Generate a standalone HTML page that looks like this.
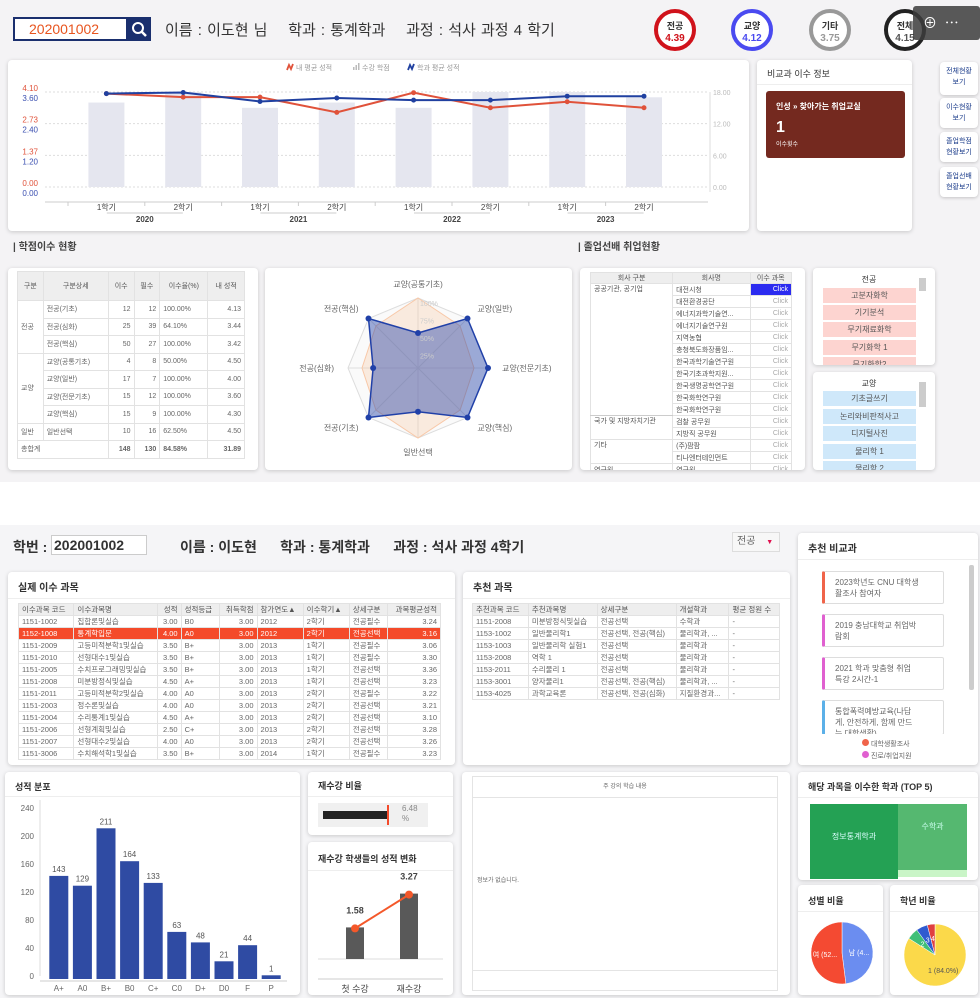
<!DOCTYPE html>
<html><head><meta charset="utf-8">
<style>
*{box-sizing:border-box;margin:0;padding:0}
body{width:980px;height:998px;position:relative;overflow:hidden;background:#fff;font-family:"Liberation Sans","Noto Sans CJK KR",sans-serif;color:#333}
.abs{position:absolute}
.panel{position:absolute;background:#fff;border-radius:4px;box-shadow:0 1px 4px rgba(0,0,0,.18)}
table{border-collapse:collapse;font-size:8px;color:#666}
td,th{border:1px solid #e2e2e2;padding:0 3px;white-space:nowrap;overflow:hidden;font-weight:normal}
th{background:#eee;color:#555}
.ptitle{position:absolute;left:10px;top:8px;font-size:10px;font-weight:bold;color:#333}
.hline{position:absolute;left:0;right:0;border-top:1px solid #eee}
.circ{position:absolute;width:42px;height:42px;border-radius:50%;background:#fff;text-align:center;font-size:10px;line-height:12px;padding-top:7px;font-weight:bold}
.sbtn{position:absolute;left:940px;width:38px;background:#fff;border-radius:4px;box-shadow:0 1px 3px rgba(0,0,0,.2);font-size:7px;color:#1a3b8a;text-align:center;line-height:11px;padding-top:4px}
.li{position:absolute;left:10px;width:93px;height:15px;font-size:8px;text-align:center;line-height:15px;color:#555}
</style></head><body>
<div class="abs" style="left:0;top:0;width:980px;height:482px;background:#f4f3f5"></div>
<div class="abs" style="left:0;top:525px;width:980px;height:473px;background:#f5f5f7"></div>

<div class="abs" style="left:13px;top:17px;width:115px;height:24px;border:2px solid #1a2f6e;background:#fff;color:#e8541e;font-size:14px;line-height:20px;padding-left:14px">202001002</div>
<div class="abs" style="left:127px;top:17px;width:24px;height:24px;background:#1a2f6e">
<svg width="24" height="24"><circle cx="11" cy="11" r="5" stroke="#fff" stroke-width="2" fill="none"/><line x1="14.5" y1="14.5" x2="19" y2="19" stroke="#fff" stroke-width="2.5"/></svg></div>
<div class="abs" style="left:165px;top:19px;font-size:15px;color:#333;white-space:nowrap;word-spacing:1px">이름 : 이도현 님 &nbsp;&nbsp; 학과 : 통계학과 &nbsp;&nbsp; 과정 : 석사 과정 4 학기</div>
<div class="circ" style="left:654px;top:9px;border:4px solid #d0121b;color:#d0121b"><span style="color:#333;font-size:9px">전공</span><br>4.39</div>
<div class="circ" style="left:731px;top:9px;border:4px solid #4a4af0;color:#4a4af0"><span style="color:#333;font-size:9px">교양</span><br>4.12</div>
<div class="circ" style="left:809px;top:9px;border:4px solid #999;color:#999"><span style="color:#333;font-size:9px">기타</span><br>3.75</div>
<div class="circ" style="left:884px;top:9px;border:4px solid #222;color:#555"><span style="color:#333;font-size:9px">전체</span><br>4.15</div>
<div class="abs" style="left:913px;top:6px;width:67px;height:34px;background:rgba(60,60,60,.85);border-radius:3px;color:#fff;font-size:14px;line-height:34px;padding-left:10px">⊕ &nbsp;⋯</div>

<div class="panel" style="left:8px;top:60px;width:741px;height:171px"></div>
<svg id="trend" class="abs" style="left:0;top:0" width="750" height="232"></svg>

<div class="panel" style="left:757px;top:60px;width:155px;height:171px">
<div class="ptitle" style="top:7px;font-weight:normal;font-size:9px">비교과 이수 정보</div>
<div class="hline" style="top:24px"></div>
<div class="abs" style="left:9px;top:31px;width:139px;height:67px;background:#74291f;border-radius:3px;color:#fff">
<div class="abs" style="left:10px;top:10px;font-size:8px;font-weight:bold">인성 » 찾아가는 취업교실</div>
<div class="abs" style="left:10px;top:28px;font-size:16px;font-weight:bold">1</div>
<div class="abs" style="left:10px;top:48px;font-size:6px">이수횟수</div></div>
</div>
<div class="sbtn" style="top:62px;height:33px">전체현황<br>보기</div>
<div class="sbtn" style="top:98px;height:30px">이수현황<br>보기</div>
<div class="sbtn" style="top:132px;height:30px">졸업학점<br>현황보기</div>
<div class="sbtn" style="top:167px;height:30px">졸업선배<br>현황보기</div>

<div class="abs" style="left:13px;top:238px;font-size:10px;font-weight:bold;color:#444">| 학점이수 현황</div>
<div class="abs" style="left:578px;top:238px;font-size:10px;font-weight:bold;color:#444">| 졸업선배 취업현황</div>

<div class="panel" style="left:8px;top:268px;width:250px;height:202px">
<table style="position:absolute;left:9px;top:3px;width:228px;font-size:7px">
<tr style="height:29px"><th>구분</th><th>구분상세</th><th>이수</th><th>필수</th><th>이수율(%)</th><th>내 성적</th></tr>
<tr style="height:17.5px"><td rowspan="3">전공</td><td>전공(기초)</td><td align="right">12</td><td align="right">12</td><td>100.00%</td><td align="right">4.13</td></tr>
<tr style="height:17.5px"><td>전공(심화)</td><td align="right">25</td><td align="right">39</td><td>64.10%</td><td align="right">3.44</td></tr>
<tr style="height:17.5px"><td>전공(핵심)</td><td align="right">50</td><td align="right">27</td><td>100.00%</td><td align="right">3.42</td></tr>
<tr style="height:17.5px"><td rowspan="4">교양</td><td>교양(공통기초)</td><td align="right">4</td><td align="right">8</td><td>50.00%</td><td align="right">4.50</td></tr>
<tr style="height:17.5px"><td>교양(일반)</td><td align="right">17</td><td align="right">7</td><td>100.00%</td><td align="right">4.00</td></tr>
<tr style="height:17.5px"><td>교양(전문기초)</td><td align="right">15</td><td align="right">12</td><td>100.00%</td><td align="right">3.60</td></tr>
<tr style="height:17.5px"><td>교양(핵심)</td><td align="right">15</td><td align="right">9</td><td>100.00%</td><td align="right">4.30</td></tr>
<tr style="height:17.5px"><td>일반</td><td>일반선택</td><td align="right">10</td><td align="right">16</td><td>62.50%</td><td align="right">4.50</td></tr>
<tr style="height:17.5px;font-weight:bold"><td colspan="2">총합계</td><td align="right"><b>148</b></td><td align="right"><b>130</b></td><td><b>84.58%</b></td><td align="right"><b>31.89</b></td></tr>
</table></div>

<div class="panel" style="left:265px;top:268px;width:307px;height:202px"></div>
<svg id="radar" class="abs" style="left:265px;top:268px" width="307" height="202"></svg>

<div class="panel" style="left:580px;top:268px;width:225px;height:202px;overflow:hidden">
<table style="position:absolute;left:10px;top:4px;width:202px;font-size:7px;color:#555">
<tr style="height:11px"><th>회사 구분</th><th>회사명</th><th>이수 과목</th></tr>
<tr style="height:12px"><td rowspan="11" valign="top" style="border-bottom:1px solid #ccc">공공기관, 공기업</td><td>대전시청</td><td align="right" style="background:#2b2bf0;color:#fff">Click</td></tr>
<tr style="height:12px"><td>대전환경공단</td><td align="right" style="color:#aaa">Click</td></tr>
<tr style="height:12px"><td>에너지과학기술연...</td><td align="right" style="color:#aaa">Click</td></tr>
<tr style="height:12px"><td>에너지기술연구원</td><td align="right" style="color:#aaa">Click</td></tr>
<tr style="height:12px"><td>지역농협</td><td align="right" style="color:#aaa">Click</td></tr>
<tr style="height:12px"><td>충청북도화장품임...</td><td align="right" style="color:#aaa">Click</td></tr>
<tr style="height:12px"><td>한국과학기술연구원</td><td align="right" style="color:#aaa">Click</td></tr>
<tr style="height:12px"><td>한국기초과학지원...</td><td align="right" style="color:#aaa">Click</td></tr>
<tr style="height:12px"><td>한국생명공학연구원</td><td align="right" style="color:#aaa">Click</td></tr>
<tr style="height:12px"><td>한국화학연구원</td><td align="right" style="color:#aaa">Click</td></tr>
<tr style="height:12px"><td>한국화학연구원</td><td align="right" style="color:#aaa">Click</td></tr>
<tr style="height:12px"><td rowspan="2" valign="top">국가 및 지방자치기관</td><td>검찰 공무원</td><td align="right" style="color:#aaa">Click</td></tr>
<tr style="height:12px"><td>지방직 공무원</td><td align="right" style="color:#aaa">Click</td></tr>
<tr style="height:12px"><td rowspan="2" valign="top">기타</td><td>(주)팜팜</td><td align="right" style="color:#aaa">Click</td></tr>
<tr style="height:12px"><td>티나엔터테인먼트</td><td align="right" style="color:#aaa">Click</td></tr>
<tr style="height:12px"><td>연구원</td><td>연구원</td><td align="right" style="color:#aaa">Click</td></tr>
</table></div>

<div class="panel" style="left:813px;top:268px;width:122px;height:97px;overflow:hidden">
<div class="abs" style="left:0;width:112px;top:6px;text-align:center;font-size:8px">전공</div>
<div class="li" style="top:20px;background:#fdd4d0">고분자화학</div>
<div class="li" style="top:37px;background:#fdd4d0">기기분석</div>
<div class="li" style="top:54px;background:#fdd4d0">무기재료화학</div>
<div class="li" style="top:72px;background:#fdd4d0">무기화학 1</div>
<div class="li" style="top:89px;background:#fdd4d0">무기화학2</div>
<div class="abs" style="left:106px;top:10px;width:7px;height:13px;background:#ccc"></div>
</div>
<div class="panel" style="left:813px;top:372px;width:122px;height:98px;overflow:hidden">
<div class="abs" style="left:0;width:112px;top:6px;text-align:center;font-size:8px">교양</div>
<div class="li" style="top:19px;background:#cfe8fa">기초글쓰기</div>
<div class="li" style="top:37px;background:#cfe8fa">논리와비판적사고</div>
<div class="li" style="top:54px;background:#cfe8fa">디지털사진</div>
<div class="li" style="top:72px;background:#cfe8fa">물리학 1</div>
<div class="li" style="top:89px;background:#cfe8fa">물리학 2</div>
<div class="abs" style="left:106px;top:10px;width:7px;height:25px;background:#ccc"></div>
</div>

<div class="abs" style="left:13px;top:537px;font-size:14px;font-weight:bold;color:#333">학번 :</div>
<div class="abs" style="left:51px;top:535px;width:96px;height:20px;border:1px solid #ccc;background:#fff;font-size:14px;font-weight:bold;line-height:18px;padding-left:2px">202001002</div>
<div class="abs" style="left:180px;top:537px;font-size:14px;font-weight:bold;color:#333;white-space:nowrap">이름 : 이도현 &nbsp;&nbsp;&nbsp;&nbsp; 학과 : 통계학과 &nbsp;&nbsp;&nbsp;&nbsp; 과정 : 석사 과정 4학기</div>
<div class="abs" style="left:732px;top:532px;width:48px;height:20px;border:1px solid #ddd;background:#f7f7f7;font-size:10px;color:#666;line-height:18px;padding-left:4px">전공 <span style="color:#e0114f;font-size:7px;margin-left:8px">▼</span></div>

<div class="panel" style="left:8px;top:572px;width:447px;height:193px">
<div class="ptitle" style="top:7px">실제 이수 과목</div><div class="hline" style="top:26px"></div>
<table style="position:absolute;left:10px;top:31px;width:423px;font-size:7.5px">
<tr style="height:12px"><th align="left">이수과목 코드</th><th align="left">이수과목명</th><th align="right">성적</th><th align="left">성적등급</th><th align="right">취득학점</th><th align="left">참가연도▲</th><th align="left">이수학기▲</th><th align="left">상세구분</th><th align="right">과목평균성적</th></tr>
<tr style="height:12px"><td>1151-1002</td><td>집합론및실습</td><td align="right">3.00</td><td>B0</td><td align="right">3.00</td><td>2012</td><td>2학기</td><td>전공필수</td><td align="right">3.24</td></tr>
<tr style="height:12px;background:#f44a2a;color:#fff"><td>1152-1008</td><td>통계학입문</td><td align="right">4.00</td><td>A0</td><td align="right">3.00</td><td>2012</td><td>2학기</td><td>전공선택</td><td align="right">3.16</td></tr>
<tr style="height:12px"><td>1151-2009</td><td>고등미적분학1및실습</td><td align="right">3.50</td><td>B+</td><td align="right">3.00</td><td>2013</td><td>1학기</td><td>전공필수</td><td align="right">3.06</td></tr>
<tr style="height:12px"><td>1151-2010</td><td>선형대수1및실습</td><td align="right">3.50</td><td>B+</td><td align="right">3.00</td><td>2013</td><td>1학기</td><td>전공필수</td><td align="right">3.30</td></tr>
<tr style="height:12px"><td>1151-2005</td><td>수치프로그래밍및실습</td><td align="right">3.50</td><td>B+</td><td align="right">3.00</td><td>2013</td><td>1학기</td><td>전공선택</td><td align="right">3.36</td></tr>
<tr style="height:12px"><td>1151-2008</td><td>미분방정식및실습</td><td align="right">4.50</td><td>A+</td><td align="right">3.00</td><td>2013</td><td>1학기</td><td>전공선택</td><td align="right">3.23</td></tr>
<tr style="height:12px"><td>1151-2011</td><td>고등미적분학2및실습</td><td align="right">4.00</td><td>A0</td><td align="right">3.00</td><td>2013</td><td>2학기</td><td>전공필수</td><td align="right">3.22</td></tr>
<tr style="height:12px"><td>1151-2003</td><td>정수론및실습</td><td align="right">4.00</td><td>A0</td><td align="right">3.00</td><td>2013</td><td>2학기</td><td>전공선택</td><td align="right">3.21</td></tr>
<tr style="height:12px"><td>1151-2004</td><td>수리통계1및실습</td><td align="right">4.50</td><td>A+</td><td align="right">3.00</td><td>2013</td><td>2학기</td><td>전공선택</td><td align="right">3.10</td></tr>
<tr style="height:12px"><td>1151-2006</td><td>선형계획및실습</td><td align="right">2.50</td><td>C+</td><td align="right">3.00</td><td>2013</td><td>2학기</td><td>전공선택</td><td align="right">3.28</td></tr>
<tr style="height:12px"><td>1151-2007</td><td>선형대수2및실습</td><td align="right">4.00</td><td>A0</td><td align="right">3.00</td><td>2013</td><td>2학기</td><td>전공선택</td><td align="right">3.26</td></tr>
<tr style="height:12px"><td>1151-3006</td><td>수치해석학1및실습</td><td align="right">3.50</td><td>B+</td><td align="right">3.00</td><td>2014</td><td>1학기</td><td>전공필수</td><td align="right">3.23</td></tr>
</table></div>

<div class="panel" style="left:463px;top:572px;width:327px;height:193px">
<div class="ptitle" style="top:7px">추천 과목</div><div class="hline" style="top:26px"></div>
<table style="position:absolute;left:9px;top:31px;width:308px;font-size:7.5px">
<tr style="height:12px"><th align="left">추천과목 코드</th><th align="left">추천과목명</th><th align="left">상세구분</th><th align="left">개설학과</th><th align="left">평균 정원 수</th></tr>
<tr style="height:12px"><td>1151-2008</td><td>미분방정식및실습</td><td>전공선택</td><td>수학과</td><td>-</td></tr>
<tr style="height:12px"><td>1153-1002</td><td>일반물리학1</td><td>전공선택, 전공(핵심)</td><td>물리학과, ...</td><td>-</td></tr>
<tr style="height:12px"><td>1153-1003</td><td>일반물리학 실험1</td><td>전공선택</td><td>물리학과</td><td>-</td></tr>
<tr style="height:12px"><td>1153-2008</td><td>역학 1</td><td>전공선택</td><td>물리학과</td><td>-</td></tr>
<tr style="height:12px"><td>1153-2011</td><td>수리물리 1</td><td>전공선택</td><td>물리학과</td><td>-</td></tr>
<tr style="height:12px"><td>1153-3001</td><td>양자물리1</td><td>전공선택, 전공(핵심)</td><td>물리학과, ...</td><td>-</td></tr>
<tr style="height:12px"><td>1153-4025</td><td>과학교육론</td><td>전공선택, 전공(심화)</td><td>지질환경과...</td><td>-</td></tr>
</table></div>

<div class="panel" style="left:798px;top:533px;width:180px;height:232px;overflow:hidden">
<div class="ptitle" style="top:7px">추천 비교과</div><div class="hline" style="top:26px"></div>
<div class="abs" style="left:24px;top:38px;width:122px;height:33px;border:1px solid #ddd;border-left:3px solid #f0644a;border-radius:2px;font-size:8px;color:#666;padding:5px 0 0 10px;line-height:11px">2023학년도 CNU 대학생<br>활조사 참여자</div>
<div class="abs" style="left:24px;top:81px;width:122px;height:33px;border:1px solid #ddd;border-left:3px solid #e060d0;border-radius:2px;font-size:8px;color:#666;padding:5px 0 0 10px;line-height:11px">2019 충남대학교 취업박<br>람회</div>
<div class="abs" style="left:24px;top:124px;width:122px;height:33px;border:1px solid #ddd;border-left:3px solid #e060d0;border-radius:2px;font-size:8px;color:#666;padding:5px 0 0 10px;line-height:11px">2021 학과 맞춤형 취업<br>특강 2시간-1</div>
<div class="abs" style="left:24px;top:167px;width:122px;height:35px;border:1px solid #ddd;border-left:3px solid #5bb0e8;border-radius:2px;font-size:8px;color:#666;padding:5px 0 0 10px;line-height:11px;overflow:hidden">통합폭력예방교육(나답<br>게, 안전하게, 함께 만드<br>는 대학생활)</div>
<div class="abs" style="left:0;top:201px;width:170px;height:31px;background:#fff"></div>
<div class="abs" style="left:64px;top:206px;font-size:7px;color:#666"><span style="display:inline-block;width:7px;height:7px;border-radius:50%;background:#f0644a"></span> 대학생활조사</div>
<div class="abs" style="left:64px;top:218px;font-size:7px;color:#666"><span style="display:inline-block;width:7px;height:7px;border-radius:50%;background:#e060d0"></span> 진로/취업지원</div>
<div class="abs" style="left:171px;top:32px;width:5px;height:125px;background:#ccc;border-radius:2px"></div>
</div>

<div class="panel" style="left:5px;top:772px;width:295px;height:223px">
<div class="ptitle" style="top:8px;font-size:9px">성적 분포</div><div class="hline" style="top:24px"></div></div>
<svg id="dist" class="abs" style="left:0;top:770px" width="300" height="228"></svg>

<div class="panel" style="left:308px;top:772px;width:145px;height:63px">
<div class="ptitle" style="top:7px;font-size:9px">재수강 비율</div><div class="hline" style="top:24px"></div>
<div class="abs" style="left:10px;top:31px;width:110px;height:24px;background:#f0f0f0"></div>
<div class="abs" style="left:15px;top:39px;width:65px;height:8px;background:#222"></div>
<div class="abs" style="left:79px;top:33px;width:2px;height:20px;background:#f44a2a"></div>
<div class="abs" style="left:94px;top:32px;font-size:8px;color:#888;line-height:10px">6.48<br>%</div></div>

<div class="panel" style="left:308px;top:842px;width:145px;height:153px">
<div class="ptitle" style="top:10px;font-size:9px">재수강 학생들의 성적 변화</div><div class="hline" style="top:28px"></div></div>
<svg id="retake" class="abs" style="left:308px;top:842px" width="145" height="153"></svg>

<div class="panel" style="left:462px;top:772px;width:328px;height:223px">
<div class="abs" style="left:10px;top:4px;width:306px;height:215px;border:1px solid #e4e4e4"></div>
<div class="abs" style="left:10px;top:4px;width:306px;height:22px;border-bottom:1px solid #e4e4e4;text-align:center;font-size:6px;color:#666;line-height:22px">주 강의 학습 내용</div>
<div class="abs" style="left:15px;top:103px;font-size:6px;color:#666">정보가 없습니다.</div>
<div class="abs" style="left:10px;top:198px;width:306px;border-top:1px solid #e4e4e4"></div></div>

<div class="panel" style="left:798px;top:772px;width:180px;height:108px">
<div class="ptitle" style="top:8px;font-size:9px">해당 과목을 이수한 학과 (TOP 5)</div><div class="hline" style="top:25px"></div>
<div class="abs" style="left:12px;top:32px;width:88px;height:75px;background:#24a154;color:#dff;font-size:8px;text-align:center;line-height:65px">정보통계학과</div>
<div class="abs" style="left:100px;top:32px;width:69px;height:66px;background:#55b870;color:#cfe;font-size:8px;text-align:center;line-height:45px">수학과</div>
<div class="abs" style="left:100px;top:98px;width:69px;height:7px;background:#c9f5c7"></div></div>

<div class="panel" style="left:798px;top:885px;width:85px;height:110px">
<div class="ptitle" style="top:9px;font-size:9px">성별 비율</div><div class="hline" style="top:26px"></div></div>
<div class="panel" style="left:890px;top:885px;width:88px;height:110px">
<div class="ptitle" style="top:9px;font-size:9px">학년 비율</div><div class="hline" style="top:26px"></div></div>
<svg id="pies" class="abs" style="left:798px;top:885px" width="182" height="113"></svg>

<script>
const NS='http://www.w3.org/2000/svg';
function mk(p,t,a,txt){const e=document.createElementNS(NS,t);for(const k in a)e.setAttribute(k,a[k]);if(txt!==undefined)e.textContent=txt;p.appendChild(e);return e;}

const semesters=['1학기','2학기','1학기','2학기','1학기','2학기','1학기','2학기'];
const years=['2020','2021','2022','2023'];
const credits=[16,18,15,16,15,18,18,17];
const myGpa=[4.03,3.88,3.88,3.22,4.07,3.42,3.68,3.42];
const deptGpa=[3.78,3.82,3.48,3.61,3.53,3.53,3.68,3.68];
const leftRedTicks=['0.00','1.37','2.73','4.10'];
const leftBlueTicks=['0.00','1.20','2.40','3.60'];
const rightTicks=['0.00','6.00','12.00','18.00'];
(function(){
 const s=document.getElementById('trend');
 const x0=68,step=76.8,yB=187,yT=92;
 const xs=i=>x0+step*(i+0.5);
 const yR=v=>yB-(v/18)*(yB-yT);
 const yRed=v=>yB-(v/4.10)*(yB-yT);
 const yBlue=v=>192.7-(v/3.60)*94.4;
 for(let k=0;k<4;k++){const y=yB-k*(yB-yT)/3;
  mk(s,'line',{x1:45,x2:708,y1:y,y2:y,stroke:'#ddd','stroke-dasharray':'2,2'});
  mk(s,'text',{x:38,y:y-1,'font-size':8,fill:'#e0523a','text-anchor':'end'},leftRedTicks[k]);
  mk(s,'text',{x:38,y:y+9,'font-size':8,fill:'#3a4fb0','text-anchor':'end'},leftBlueTicks[k]);
  mk(s,'text',{x:713,y:y+3,'font-size':7,fill:'#bbb'},rightTicks[k]);}
 mk(s,'line',{x1:45,x2:708,y1:202,y2:202,stroke:'#ccc'});
 mk(s,'line',{x1:710,x2:710,y1:92,y2:192,stroke:'#ddd'});
 credits.forEach((v,i)=>{const b=mk(s,'rect',{x:xs(i)-18,y:yR(v),width:36,height:yB-yR(v),fill:'#e5e6ef'});
  });
 semesters.forEach((t,i)=>{mk(s,'text',{x:xs(i),y:210,'font-size':8,fill:'#444','text-anchor':'middle'},t);
  mk(s,'line',{x1:x0+step*i,x2:x0+step*i,y1:202,y2:206,stroke:'#ccc'});});
 years.forEach((t,j)=>{const c=(xs(2*j)+xs(2*j+1))/2;
  mk(s,'line',{x1:c-38,x2:c+38,y1:213,y2:213,stroke:'#ccc'});
  mk(s,'text',{x:c,y:222,'font-size':8,fill:'#444','font-weight':'bold','text-anchor':'middle'},t);});
 function line(arr,f,c,name){mk(s,'polyline',{points:arr.map((v,i)=>xs(i)+','+f(v)).join(' '),fill:'none',stroke:c,'stroke-width':2});
  arr.forEach((v,i)=>{const p=mk(s,'circle',{cx:xs(i),cy:f(v),r:2.5,fill:c});});}
 line(myGpa,yRed,'#e0523a','my-gpa-point');
 line(deptGpa,yBlue,'#2040a0','dept-gpa-point');
 const lg=[['#e0523a','내 평균 성적',287,'line'],['#bbb','수강 학점',353,'bar'],['#2040a0','학과 평균 성적',408,'line']];
 lg.forEach(l=>{
  if(l[3]=='line'){mk(s,'polyline',{points:`${l[2]},70 ${l[2]+2},65 ${l[2]+4},69 ${l[2]+6},64`,fill:'none',stroke:l[0],'stroke-width':1.8});}
  else{mk(s,'rect',{x:l[2],y:67,width:1.5,height:3,fill:l[0]});mk(s,'rect',{x:l[2]+2.5,y:65,width:1.5,height:5,fill:l[0]});mk(s,'rect',{x:l[2]+5,y:63,width:1.5,height:7,fill:l[0]});}
  const g=mk(s,'text',{x:l[2]+9,y:70,'font-size':7,fill:'#999'},l[1]);
  });
})();

const radarAxes=['교양(공통기초)','교양(일반)','교양(전문기초)','교양(핵심)','일반선택','전공(기초)','전공(심화)','전공(핵심)'];
const radarMine=[50,100,100,100,62.5,100,64.1,100];
const radarAvg=[100,85,80,85,100,85,80,85];
const radarTicks=['25%','50%','75%','100%'];
(function(){
 const s=document.getElementById('radar');const cx=153,cy=100,R=70;
 const pt=(i,v)=>{const a=-Math.PI/2+i*Math.PI/4;return [cx+Math.cos(a)*R*v/100,cy+Math.sin(a)*R*v/100];};
 for(let k=1;k<=4;k++){mk(s,'polygon',{points:radarAxes.map((_,i)=>pt(i,k*25).join(',')).join(' '),fill:k==4?'#fafafa':'none',stroke:'#ddd'});}
 radarAxes.forEach((_,i)=>{const p=pt(i,100);mk(s,'line',{x1:cx,y1:cy,x2:p[0],y2:p[1],stroke:'#ddd'});});
 mk(s,'polygon',{points:radarAvg.map((v,i)=>pt(i,v).join(',')).join(' '),fill:'rgba(250,200,160,.3)',stroke:'#f8c8a8'});
 mk(s,'polygon',{points:radarMine.map((v,i)=>pt(i,v).join(',')).join(' '),fill:'rgba(40,70,170,.45)',stroke:'#2040a8','stroke-width':1.5});
 radarMine.forEach((v,i)=>{const p=pt(i,v);const c=mk(s,'circle',{cx:p[0],cy:p[1],r:3,fill:'#2040a8'});});
 radarTicks.forEach((t,k)=>mk(s,'text',{x:cx+2,y:cy-R*(k+1)/4+8,'font-size':7,fill:'#ccc'},t));
 radarAxes.forEach((t,i)=>{const p=pt(i,120);const a=Math.cos(-Math.PI/2+i*Math.PI/4);
  mk(s,'text',{x:p[0],y:p[1]+3,'font-size':8,fill:'#666','text-anchor':Math.abs(a)<0.1?'middle':(a>0?'start':'end')},t);});
})();

const gradeCats=['A+','A0','B+','B0','C+','C0','D+','D0','F','P'];
const gradeCounts=[143,129,211,164,133,63,48,21,44,1];
const distTicks=[0,40,80,120,160,200,240];
(function(){
 const s=document.getElementById('dist');const y0=206,yTop=38,x0=47,step=23.6;
 const y=v=>y0-v/240*(y0-yTop);
 distTicks.forEach(t=>mk(s,'text',{x:34,y:y(t)+3,'font-size':8,fill:'#666','text-anchor':'end'},t));
 mk(s,'line',{x1:40,x2:40,y1:30,y2:206,stroke:'#ddd'});
 mk(s,'line',{x1:40,x2:287,y1:211,y2:211,stroke:'#ccc'});
 gradeCats.forEach((c,i)=>{const cx=x0+step*(i+0.5),v=gradeCounts[i];
  const b=mk(s,'rect',{x:cx-9.5,y:y(v),width:19,height:y0-y(v)+3,fill:'#2f4ba3'});
  
  mk(s,'text',{x:cx,y:y(v)-4,'font-size':8,fill:'#555','text-anchor':'middle'},v);
  mk(s,'text',{x:cx,y:221,'font-size':8,fill:'#666','text-anchor':'middle'},c);});
})();

const retakeCats=['첫 수강','재수강'];
const retakeVals=[1.58,3.27];
(function(){
 const s=document.getElementById('retake');const base=117,k=20,xs=[47,101];
 mk(s,'line',{x1:10,x2:135,y1:base,y2:base,stroke:'#ddd'});
 mk(s,'line',{x1:10,x2:135,y1:137,y2:137,stroke:'#ccc'});
 const pts=[];
 retakeVals.forEach((v,i)=>{const b=mk(s,'rect',{x:xs[i]-9,y:base-v*k,width:18,height:v*k,fill:'#595959'});
  
  pts.push([xs[i],base-v*k+1]);
  mk(s,'text',{x:xs[i],y:base-v*k-14,'font-size':9,'font-weight':'bold',fill:'#444','text-anchor':'middle'},v.toFixed(2));
  mk(s,'text',{x:xs[i],y:150,'font-size':9,fill:'#444','text-anchor':'middle'},retakeCats[i]);});
 mk(s,'line',{x1:pts[0][0],y1:pts[0][1],x2:pts[1][0],y2:pts[1][1],stroke:'#f4582a','stroke-width':2});
 pts.forEach(p=>mk(s,'circle',{cx:p[0],cy:p[1],r:4,fill:'#f4582a'}));
})();

const genderLabels=['남 (4...','여 (52...'];
const genderVals=[48,52];
const genderColors=['#6b8df0','#f44a32'];
const yearLabels=['1 (84.0%)','2','3','4'];
const yearVals=[84,6,6,4];
const yearColors=['#fbd94a','#3fbf78','#2f5bd0','#e04040'];
(function(){
 const s=document.getElementById('pies');
 function pie(cx,cy,r,vals,cols,labs,name){const tot=vals.reduce((a,b)=>a+b,0);let a=-Math.PI/2;
  vals.forEach((v,i)=>{const a2=a+v/tot*2*Math.PI;const large=a2-a>Math.PI?1:0;
   const p=mk(s,'path',{d:`M${cx},${cy}L${cx+r*Math.cos(a)},${cy+r*Math.sin(a)}A${r},${r} 0 ${large} 1 ${cx+r*Math.cos(a2)},${cy+r*Math.sin(a2)}Z`,fill:cols[i],stroke:'#fff','stroke-width':0.5});
   
   const m=(a+a2)/2;mk(s,'text',{x:cx+r*0.55*Math.cos(m),y:cy+r*0.55*Math.sin(m)+3,'font-size':7,fill:i==0&&name=='year-slice'?'#555':'#fff','text-anchor':'middle'},labs[i]);
   a=a2;});}
 pie(44,68,31,genderVals,genderColors,genderLabels,'gender-slice');
 pie(137,70,31,yearVals,yearColors,yearLabels,'year-slice');
})();
</script>
</body></html>
